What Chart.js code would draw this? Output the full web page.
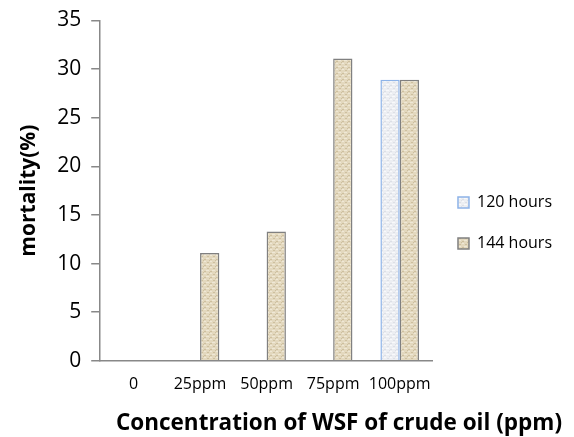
<!DOCTYPE html>
<html>
<head>
<meta charset="utf-8">
<script src="https://cdn.jsdelivr.net/npm/chart.js@4"></script>
<style>
  body { margin: 0; background: #fff; }
  #wrap { width: 574px; height: 437px; }
</style>
</head>
<body>
<div id="wrap"><canvas id="chart1"></canvas></div>
<script>
// mortality (%) by WSF concentration
const labels1 = ['0', '25ppm', '50ppm', '75ppm', '100ppm'];
const hours120 = [0, 0, 0, 0, 28.9];
const hours144 = [0, 11.1, 13.3, 31.1, 28.9];
const yTicks1 = [0, 5, 10, 15, 20, 25, 30, 35];

// small texture like the office-style fill
function makePattern(base, dark, light) {
    const c = document.createElement('canvas');
    c.width = 6; c.height = 6;
    const g = c.getContext('2d');
    g.fillStyle = base; g.fillRect(0, 0, 6, 6);
    g.fillStyle = dark;
    g.fillRect(0, 1, 2, 1); g.fillRect(3, 4, 2, 1); g.fillRect(5, 2, 1, 1);
    g.fillStyle = light;
    g.fillRect(2, 0, 3, 1); g.fillRect(0, 3, 2, 1);
    return g.createPattern(c, 'repeat');
}
const fill144 = makePattern('#e3d8be', '#cdbf9f', '#efe8d6');
const fill120 = makePattern('#eceef2', '#dcdfe6', '#f8f9fb');

const ctx1 = document.getElementById('chart1').getContext('2d');
const chart1 = new Chart(ctx1, {
    type: 'bar',
    data: {
        labels: labels1,
        datasets: [{
            label: '120 hours',
            data: hours120,
            backgroundColor: fill120,
            borderColor: '#8db3e8',
            borderWidth: 1.5,
            barPercentage: 1,
            categoryPercentage: 0.58
        }, {
            label: '144 hours',
            data: hours144,
            backgroundColor: fill144,
            borderColor: '#808080',
            borderWidth: 1.5,
            barPercentage: 1,
            categoryPercentage: 0.58
        }]
    },
    options: {
        responsive: true,
        maintainAspectRatio: false,
        animation: false,
        layout: { padding: { top: 9, right: 12, left: 16, bottom: 0 } },
        plugins: {
            legend: {
                position: 'right',
                labels: {
                    boxWidth: 11,
                    boxHeight: 11,
                    padding: 25,
                    color: '#000',
                    font: { family: 'Open Sans', size: 16 }
                }
            },
            title: {
                display: true,
                position: 'bottom',
                align: 'end',
                text: 'Concentration of WSF of crude oil (ppm)',
                color: '#000',
                font: { family: 'Open Sans', size: 22.5, weight: 'bold' },
                padding: { top: 2, bottom: 0 }
            },
            tooltip: { enabled: false }
        },
        scales: {
            x: {
                grid: { display: false, drawTicks: false },
                border: { color: '#888', width: 1.5 },
                ticks: {
                    color: '#000',
                    font: { family: 'Open Sans', size: 16 },
                    padding: 14,
                    maxRotation: 0,
                    minRotation: 0,
                    autoSkip: false
                }
            },
            y: {
                min: 0,
                max: 35,
                afterBuildTicks: function(axis) {
                    axis.ticks = yTicks1.map(v => ({ value: v }));
                },
                grid: { drawOnChartArea: false, color: '#888', tickLength: 9, lineWidth: 1.5 },
                border: { color: '#888', width: 1.5 },
                ticks: { color: '#000', font: { family: 'Open Sans', size: 21, lineHeight: 1 }, padding: 10 },
                title: {
                    display: true,
                    text: 'mortality(%)',
                    color: '#000',
                    font: { family: 'Open Sans', size: 21, weight: 'bold' },
                    padding: { top: 0, bottom: 6 }
                }
            }
        }
    }
});
</script>
</body>
</html>
